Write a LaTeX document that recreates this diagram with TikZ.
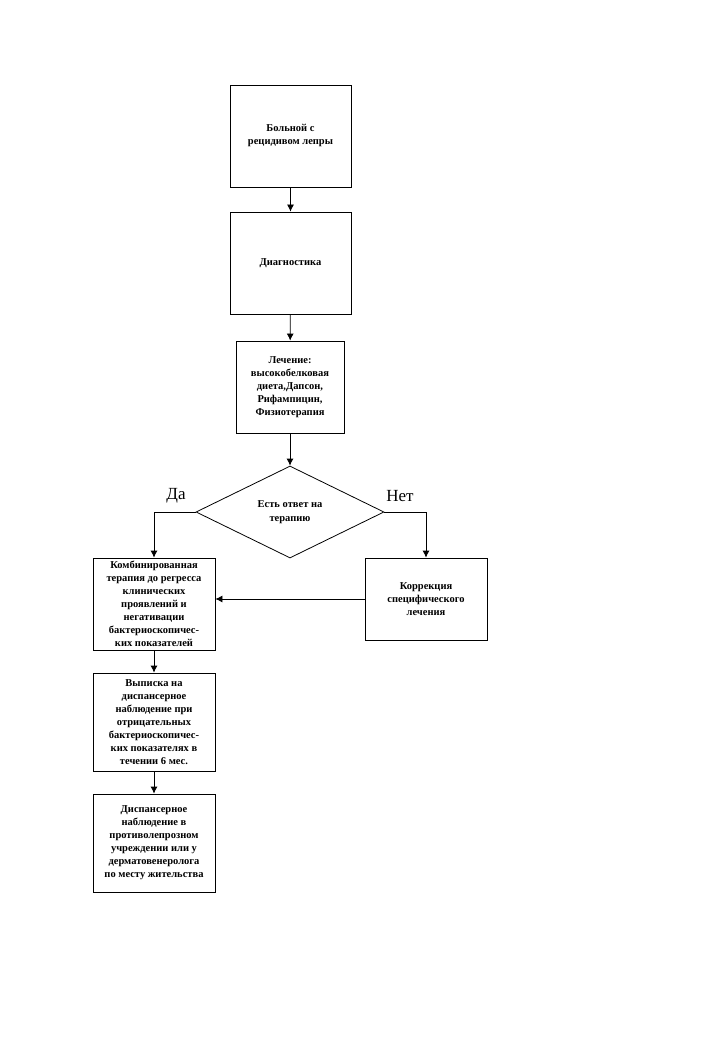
\documentclass[tikz,border=0pt]{standalone}
\usepackage{fontspec}
\setmainfont{Liberation Serif}
\usetikzlibrary{shapes.geometric,arrows.meta}
\begin{document}
\begin{tikzpicture}[x=1pt,y=-1pt,
  box/.style={draw,thick,rectangle,align=center,inner sep=1pt,font=\fontsize{10.5}{13}\selectfont\bfseries},
  arr/.style={draw,thick,-{Latex[length=7pt,width=7pt]}},
  lbl/.style={font=\fontsize{17}{19}\selectfont}]
\useasboundingbox (0,0) rectangle (720,1040);
\node[box,minimum width=121pt,minimum height=102pt] (b1) at (290.5,136) {Больной с\\рецидивом лепры};
\node[box,minimum width=121pt,minimum height=102pt] (b2) at (290.5,263) {Диагностика};
\node[box,minimum width=108pt,minimum height=92pt] (b3) at (290,387) {Лечение:\\высокобелковая\\диета,Дапсон,\\Рифампицин,\\Физиотерапия};
\node[diamond,draw,thick,aspect=2.04,minimum width=188pt,minimum height=92pt,inner sep=0pt,align=center,font=\fontsize{10.5}{13.6}\selectfont\bfseries] (d) at (290,512) {Есть ответ на\\терапию};
\node[box,minimum width=122pt,minimum height=92pt] (l1) at (154,604) {Комбинированная\\терапия до регресса\\клинических\\проявлений и\\негативации\\бактериоскопичес-\\ких показателей};
\node[box,minimum width=122pt,minimum height=82pt] (r1) at (426,599) {Коррекция\\специфического\\лечения};
\node[box,minimum width=122pt,minimum height=98pt] (l2) at (154,722) {Выписка на\\диспансерное\\наблюдение при\\отрицательных\\бактериоскопичес-\\ких показателях в\\течении 6 мес.};
\node[box,minimum width=122pt,minimum height=98pt] (l3) at (154,843) {Диспансерное\\наблюдение в\\противолепрозном\\учреждении или у\\дерматовенеролога\\по месту жительства};
\node[lbl] (da) at (176,496) {Да};
\node[lbl] (net) at (400,496) {Нет};
\draw[arr] (b1) -- (b2);
\draw[arr] (b2) -- (b3);
\draw[arr] (b3) -- (d);
\draw[arr] (d.west) -| (l1.north);
\draw[arr] (d.east) -| (r1.north);
\draw[arr] (r1.west) -- (l1.east |- r1.west);
\draw[arr] (l1) -- (l2);
\draw[arr] (l2) -- (l3);
\end{tikzpicture}
\end{document}
